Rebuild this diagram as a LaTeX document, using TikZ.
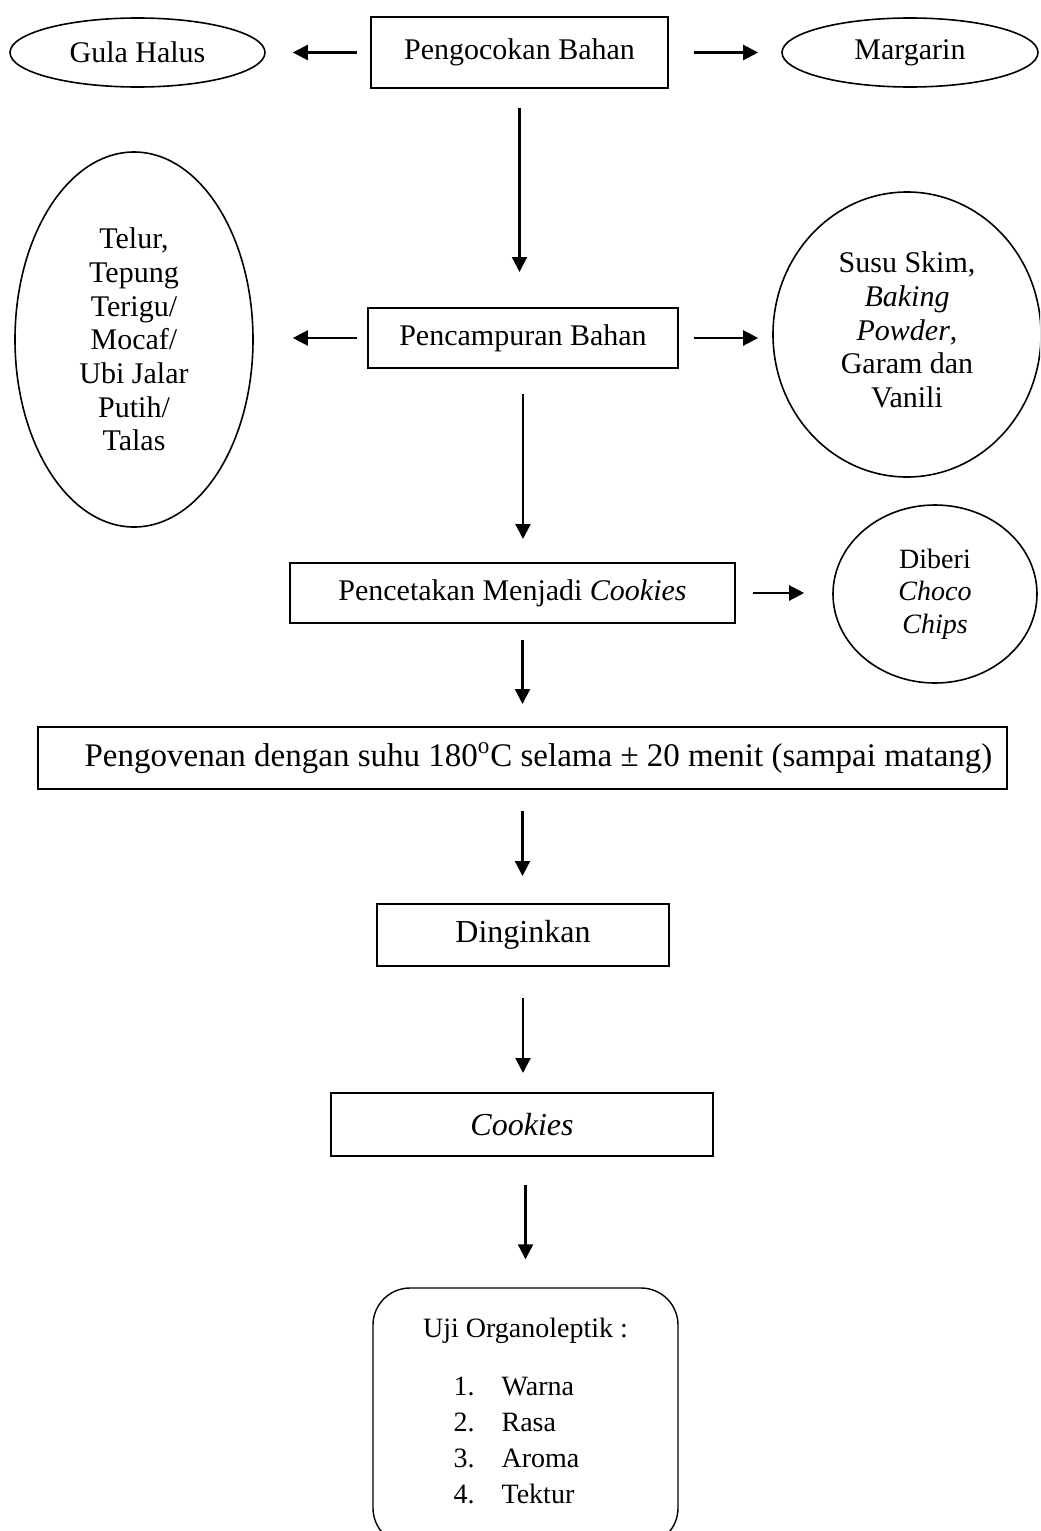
\documentclass[tikz,border=0pt]{standalone}
\usepackage{fontspec}
\setmainfont{Liberation Serif}
\usetikzlibrary{shapes.geometric,arrows.meta}
\begin{document}
\begin{tikzpicture}[x=0.5pt,y=-0.5pt,
  box/.style={draw,line width=1pt,inner sep=0pt,align=center,font=\fontsize{15}{17}\selectfont},
  ell/.style={draw,ellipse,line width=0.8pt,inner sep=0pt,align=center,font=\fontsize{15}{16.85}\selectfont},
  arr/.style={line width=1.1pt,-{Triangle[length=7.5pt,width=7.5pt]}}]
\useasboundingbox (0,0) rectangle (1040,1531);
\clip (0,0) rectangle (1040,1531);

\node[ell, minimum width=127.5pt, minimum height=34.5pt] (gula) at (137.5,52.5) {Gula Halus};
\node[box, minimum width=148.5pt, minimum height=35.5pt] (b1) at (519.5,52.5) {Pengocokan Bahan};
\node[ell, minimum width=128pt, minimum height=34.5pt] (marg) at (910,52.5) {Margarin};

\node[ell, minimum width=119pt, minimum height=187.5pt] (telur) at (134,339.5)
  {Telur,\\Tepung\\Terigu/\\Mocaf/\\Ubi Jalar\\Putih/\\Talas};
\node[box, minimum width=155pt, minimum height=30pt] (b2) at (523,338) {Pencampuran Bahan};
\node[ell, minimum width=134pt, minimum height=142.5pt] (susu) at (907,334.5)
  {Susu Skim,\\\textit{Baking}\\\textit{Powder},\\Garam dan\\Vanili\\[-12pt]};

\node[box, minimum width=222.5pt, minimum height=30pt] (b3) at (512.5,593) {Pencetakan Menjadi \textit{Cookies}};
\node[ell, minimum width=102pt, minimum height=89pt, font=\fontsize{14}{16.25}\selectfont] (diberi) at (935,594)
  {Diberi\\\textit{Choco}\\\textit{Chips}};

\node[box, minimum width=484.5pt, minimum height=31pt, font=\fontsize{16.5}{19}\selectfont] (b4) at (522.5,758)
  {\hspace*{16pt}Pengovenan dengan suhu 180\textsuperscript{o}C selama ± 20 menit (sampai matang)};
\node[box, minimum width=146pt, minimum height=31pt, font=\fontsize{16}{19}\selectfont] (b5) at (523,935) {Dinginkan};
\node[box, minimum width=191pt, minimum height=31.5pt, font=\fontsize{16}{19}\selectfont] (b6) at (522,1124.5) {\textit{Cookies}};
\node[draw, line width=0.7pt, rounded corners=18.5pt, minimum width=152.5pt, minimum height=128.5pt,
      inner sep=0pt, align=center, font=\fontsize{14}{18}\selectfont] (b7) at (525.5,1416.5)
  {Uji Organoleptik :\\[11pt]\hspace*{-9pt}\begin{tabular}[t]{@{}r@{\hspace{13.5pt}}l@{}}1.&Warna\\2.&Rasa\\3.&Aroma\\4.&Tektur\end{tabular}};

\draw[arr, shorten <=6.5pt, shorten >=13.5pt] (b1.west) -- (gula.east);
\draw[arr, shorten <=12.5pt, shorten >=11.5pt] (b1.east) -- (marg.west);
\draw[arr, shorten <=9.5pt, shorten >=17.5pt] (b1.south) -- (b1.south |- b2.north);
\draw[arr, shorten <=5pt, shorten >=19.5pt] (b2.west) -- (b2.west -| telur.east);
\draw[arr, shorten <=7.5pt, shorten >=7pt] (b2.east) -- (b2.east -| susu.west);
\draw[arr, shorten <=12.5pt, shorten >=11.5pt] (b2.south) -- (b2.south |- b3.north);
\draw[arr, shorten <=8.5pt, shorten >=14pt] (b3.east) -- (b3.east -| diberi.west);
\draw[arr, shorten <=8pt, shorten >=11pt] (b4.north |- b3.south) -- (b4.north);
\draw[arr, shorten <=10.5pt, shorten >=13.5pt] (b4.south) -- (b4.south |- b5.north);
\draw[arr, shorten <=15.5pt, shorten >=9.5pt] (b5.south) -- (b5.south |- b6.north);
\draw[arr, shorten <=14pt, shorten >=14pt] (b7.north |- b6.south) -- (b7.north);
\end{tikzpicture}
\end{document}
